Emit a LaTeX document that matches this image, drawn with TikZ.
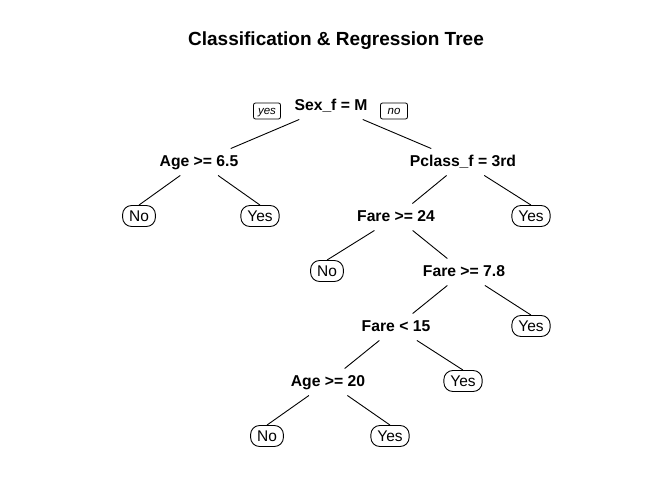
\documentclass[tikz,border=0pt]{standalone}
\usepackage{fontspec}
\setmainfont{Liberation Sans}
\usepackage{tikz}
\usetikzlibrary{positioning}
\tikzset{
  splitnode/.style={inner xsep=3pt,inner ysep=6pt,
    font=\fontsize{15.7}{18}\selectfont\bfseries,text height=11.5pt,text depth=3pt},
  leafnode/.style={draw,rounded corners=9pt,line width=0.9pt,
    minimum height=21pt,inner xsep=6.5pt,inner ysep=2pt,text height=11pt,text depth=0pt,
    font=\fontsize{15.5}{18}\selectfont},
  dirlabel/.style={draw,rounded corners=2pt,line width=0.8pt,
    minimum width=27pt,minimum height=16pt,inner xsep=2.5pt,inner ysep=1pt,text height=8pt,text depth=2pt,
    font=\fontsize{11.5}{13}\selectfont\itshape},
  branch/.style={line width=0.9pt},
}

\begin{document}
\begin{tikzpicture}[x=1pt,y=-1pt]
  \useasboundingbox (0,0) rectangle (672,480);
  \node[font=\fontsize{19}{22}\selectfont\bfseries] (title) at (336,41) {Classification \& Regression Tree};
  % splits
  \node[splitnode] (sex) at (331,106) {Sex\_f = M};
  \node[splitnode] (age1) at (199,162) {Age >= 6.5};
  \node[splitnode] (pclass) at (463,162) {Pclass\_f = 3rd};
  \node[splitnode] (fare1) at (396,217) {Fare >= 24};
  \node[splitnode] (fare2) at (464,272) {Fare >= 7.8};
  \node[splitnode] (fare3) at (396,327) {Fare < 15};
  \node[splitnode] (age2) at (328,382) {Age >= 20};
  % leaves
  \node[leafnode] (l1) at (139,216) {No};
  \node[leafnode] (l2) at (260,216) {Yes};
  \node[leafnode] (l3) at (531,216) {Yes};
  \node[leafnode] (l4) at (327,271) {No};
  \node[leafnode] (l5) at (531,326) {Yes};
  \node[leafnode] (l6) at (463,381) {Yes};
  \node[leafnode] (l7) at (267,436) {No};
  \node[leafnode] (l8) at (390,436) {Yes};
  % yes / no
  \node[dirlabel] (yes) at (267,111) {yes};
  \node[dirlabel] (no) at (394,111) {no};
  % branches
  \draw[branch] (sex) -- (age1);
  \draw[branch] (sex) -- (pclass);
  \draw[branch] (age1) -- (l1.north);
  \draw[branch] (age1) -- (l2.north);
  \draw[branch] (pclass) -- (fare1);
  \draw[branch] (pclass) -- (l3.north);
  \draw[branch] (fare1) -- (l4.north);
  \draw[branch] (fare1) -- (fare2);
  \draw[branch] (fare2) -- (fare3);
  \draw[branch] (fare2) -- (l5.north);
  \draw[branch] (fare3) -- (age2);
  \draw[branch] (fare3) -- (l6.north);
  \draw[branch] (age2) -- (l7.north);
  \draw[branch] (age2) -- (l8.north);
\end{tikzpicture}
\end{document}
